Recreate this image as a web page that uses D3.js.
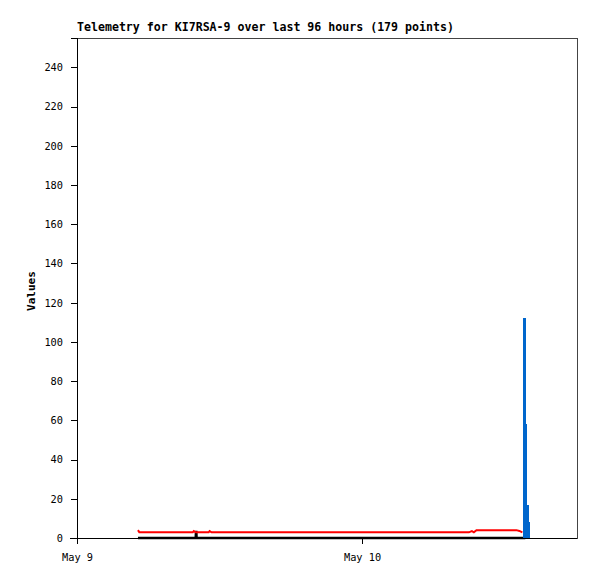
<!DOCTYPE html>
<html><head><meta charset="utf-8">
<script src="https://cdn.jsdelivr.net/npm/d3@7"></script>
<style>body{margin:0;background:#fff}svg{display:block}</style>
</head><body>
<svg id="c" width="597" height="579"></svg>
<script>
const title = "Telemetry for KI7RSA-9 over last 96 hours (179 points)";
const yLabel = "Values";
const yTicks = [0,20,40,60,80,100,120,140,160,180,200,220,240];
const xTickDates = ["2024-05-09T00:00","2024-05-10T00:00"];
const xDomain = ["2024-05-09T00:00","2024-05-10T18:06"];
const yDomain = [0,255];

const redTimes = ["2024-05-09T05:08","2024-05-09T05:15","2024-05-09T09:45","2024-05-09T09:50","2024-05-09T10:00","2024-05-09T11:05","2024-05-09T11:10","2024-05-09T11:20","2024-05-10T09:00","2024-05-10T09:15","2024-05-10T09:25","2024-05-10T09:38","2024-05-10T13:00","2024-05-10T13:15","2024-05-10T13:30"];
const redValues = [4.0,2.9,2.9,3.5,2.9,2.9,3.5,2.9,2.9,3.5,2.9,4.0,4.0,3.6,2.9];

const blackTimes = ["2024-05-09T05:08","2024-05-09T10:00","2024-05-09T10:01","2024-05-09T10:03","2024-05-09T10:04","2024-05-10T13:45"];
const blackValues = [0,0,3,3,0,0];

const blueTimes = ["2024-05-10T13:35","2024-05-10T13:47","2024-05-10T13:55","2024-05-10T14:03","2024-05-10T14:10"];
const blueValues = [112,58,17,8,0];

const parse = d3.timeParse("%Y-%m-%dT%H:%M");
const m = {l:77, r:577, t:38, b:538};
const svg = d3.select("#c");
const x = d3.scaleTime().domain(xDomain.map(parse)).range([m.l, m.r]);
const y = d3.scaleLinear().domain(yDomain).range([m.b, m.t]);
const font = "'DejaVu Sans Mono', monospace";

svg.append("rect").attr("x",m.l).attr("y",m.t).attr("width",m.r-m.l).attr("height",m.b-m.t)
  .attr("fill","none").attr("stroke","#444").attr("stroke-width",1).attr("shape-rendering","crispEdges");

const zip = (ts, vs) => ts.map((t,i)=>({t:parse(t), v:vs[i]}));
const line = d3.line().x(d=>x(d.t)).y(d=>y(d.v));
svg.append("path").datum(zip(blackTimes,blackValues)).attr("d",line)
  .attr("fill","none").attr("stroke","#000").attr("stroke-width",2.5);
svg.append("path").datum(zip(redTimes,redValues)).attr("d",line)
  .attr("fill","none").attr("stroke","#ff0000").attr("stroke-width",2);
const area = d3.area().curve(d3.curveStepAfter).x(d=>x(d.t)).y0(y(0)).y1(d=>y(d.v));
svg.append("path").datum(zip(blueTimes,blueValues)).attr("d",area)
  .attr("fill","#0066cc").attr("stroke","none").attr("shape-rendering","crispEdges");

const ya = d3.axisLeft(y).tickValues(yTicks).tickSize(6).tickPadding(8);
const gy = svg.append("g").attr("transform",`translate(${m.l},0)`).call(ya);
const xa = d3.axisBottom(x).tickValues(xTickDates.map(parse)).tickFormat(d3.timeFormat("%b %-d")).tickSize(6).tickPadding(10);
const gx = svg.append("g").attr("transform",`translate(0,${m.b})`).call(xa);
[gx,gy].forEach(g=>{
  g.selectAll(".domain").attr("stroke","#000").attr("shape-rendering","crispEdges");
  g.selectAll(".tick line").attr("stroke","#000").attr("shape-rendering","crispEdges");
  g.selectAll("text").attr("font-family",font).attr("font-size","10.3px").attr("fill","#000");
});
gx.select(".domain").attr("d",`M${m.l-7},0.5H${m.r}`);

svg.append("text").attr("x",m.l).attr("y",31).text(title)
  .attr("font-family",font).attr("font-weight","bold").attr("font-size","11.6px");
svg.append("text").attr("transform",`translate(35,${(m.t+m.b)/2+3}) rotate(-90)`)
  .attr("text-anchor","middle").text(yLabel)
  .attr("font-family",font).attr("font-weight","bold").attr("font-size","11px");
</script>
</body></html>
